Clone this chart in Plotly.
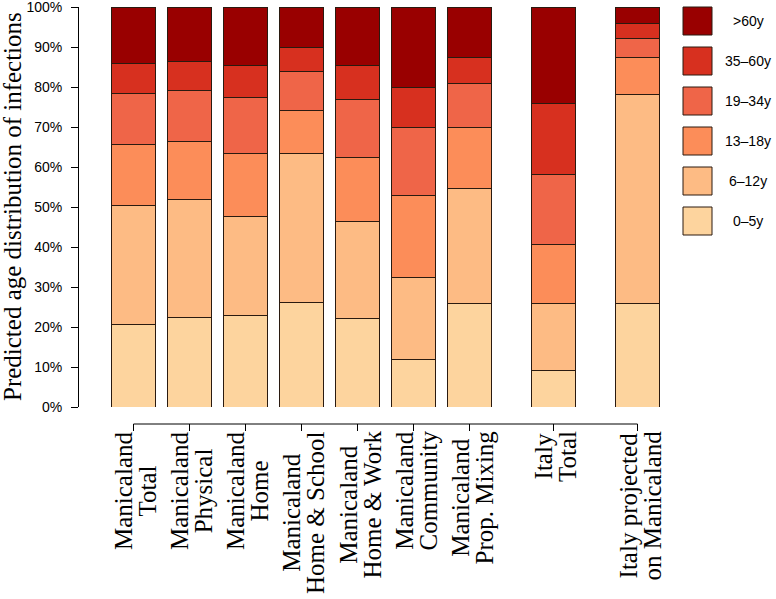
import plotly.graph_objects as go

# ---- data ----
categories = [
    "Manicaland<br>Total",
    "Manicaland<br>Physical",
    "Manicaland<br>Home",
    "Manicaland<br>Home & School",
    "Manicaland<br>Home & Work",
    "Manicaland<br>Community",
    "Manicaland<br>Prop. Mixing",
    "Italy<br>Total",
    "Italy projected<br>on Manicaland",
]
positions = [0, 1, 2, 3, 4, 5, 6, 7.5, 9]

age_groups = ["0–5y", "6–12y", "13–18y", "19–34y", "35–60y", ">60y"]
colors = ["#fdd49e", "#fdbb84", "#fc8d59", "#ef6548", "#d7301f", "#990000"]

share_0_5 = [20.7, 22.5, 23.0, 26.2, 22.2, 12.0, 26.0, 9.1, 26.0]
share_6_12 = [29.6, 29.3, 24.6, 37.1, 24.2, 20.4, 28.7, 16.7, 52.1]
share_13_18 = [15.3, 14.6, 15.7, 10.8, 16.0, 20.4, 15.2, 14.9, 9.4]
share_19_34 = [12.9, 12.8, 14.0, 9.9, 14.6, 17.1, 11.1, 17.5, 4.6]
share_35_60 = [7.5, 7.3, 8.1, 5.9, 8.5, 10.0, 6.4, 17.6, 3.7]
share_60p = [14.0, 13.5, 14.6, 10.1, 14.5, 20.1, 12.6, 24.2, 4.2]
series = [share_0_5, share_6_12, share_13_18, share_19_34, share_35_60, share_60p]

y_ticks = list(range(0, 101, 10))

# ---- layout geometry (pixels) ----
W, H = 776, 599
L, R, T, B = 79, 0, 7, 192
PW = W - L - R
PH = H - T - B
px_per_unit = 56
x_first_px = 133.5
x0 = -(x_first_px - L) / px_per_unit
x1 = (W - R - x_first_px) / px_per_unit


def px_x(p):
    return (p - L) / PW


def px_y(p):
    return (H - B - p) / PH


fig = go.Figure()
for name, vals, col in zip(age_groups, series, colors):
    fig.add_trace(go.Bar(
        x=positions, y=vals, name=name, width=0.8,
        marker=dict(color=col, line=dict(color="#2a1a10", width=1)),
        showlegend=False,
    ))

serif = "Liberation Serif, Times New Roman, serif"
sans = "Liberation Sans, Arial, Helvetica, sans-serif"

shapes = []
annotations = []

# bottom category axis (line from first to last tick + ticks)
ax_y = px_y(424)
tick_y = px_y(431)
shapes.append(dict(type="line", xref="x", yref="paper", x0=positions[0], x1=positions[-1],
                   y0=ax_y, y1=ax_y, line=dict(color="black", width=1)))
for p in positions:
    shapes.append(dict(type="line", xref="x", yref="paper", x0=p, x1=p,
                       y0=ax_y, y1=tick_y, line=dict(color="black", width=1)))

for p, lab in zip(positions, categories):
    txt = "<br>".join("<span style='font-size:25px'>%s</span>" % s for s in lab.split("<br>"))
    annotations.append(dict(x=p, xref="x", y=px_y(429), yref="paper", text=txt,
                            textangle=-90, showarrow=False, xanchor="center", yanchor="top",
                            xshift=2, align="center",
                            font=dict(family=serif, size=18.5, color="black")))

# y axis title
annotations.append(dict(x=px_x(12), xref="paper", y=px_y(207), yref="paper",
                        text="Predicted age distribution of infections", textangle=-90,
                        showarrow=False, xanchor="center", yanchor="middle",
                        font=dict(family=serif, size=25, color="black")))

# custom legend (top = >60y)
for i, (name, col) in enumerate(zip(age_groups[::-1], colors[::-1])):
    top = 7 + 40 * i
    shapes.append(dict(type="rect", xref="paper", yref="paper",
                       x0=px_x(683), x1=px_x(712), y0=px_y(top + 28), y1=px_y(top),
                       fillcolor=col, line=dict(color="#2a1a10", width=1)))
    annotations.append(dict(x=px_x(748), xref="paper", y=px_y(top + 14), yref="paper",
                            text=name, showarrow=False, xanchor="center", yanchor="middle",
                            font=dict(family=sans, size=14, color="black")))

fig.update_layout(
    width=W, height=H,
    margin=dict(l=L, r=R, t=T, b=B, pad=0),
    barmode="stack",
    plot_bgcolor="white", paper_bgcolor="white",
    xaxis=dict(range=[x0, x1], visible=False),
    yaxis=dict(range=[0, 100], tickvals=y_ticks, ticktext=["%d%%" % v for v in y_ticks],
               ticks="outside", ticklen=7, tickcolor="black", showline=True,
               linecolor="black", linewidth=1, showgrid=False, zeroline=False,
               ticklabeloverflow="allow",
               tickfont=dict(family=sans, size=14, color="black"), ticklabelstandoff=6),
    shapes=shapes,
    annotations=annotations,
)

fig.write_html("out.html", config={"displayModeBar": False},
               post_script="document.body.style.margin='0px';")
